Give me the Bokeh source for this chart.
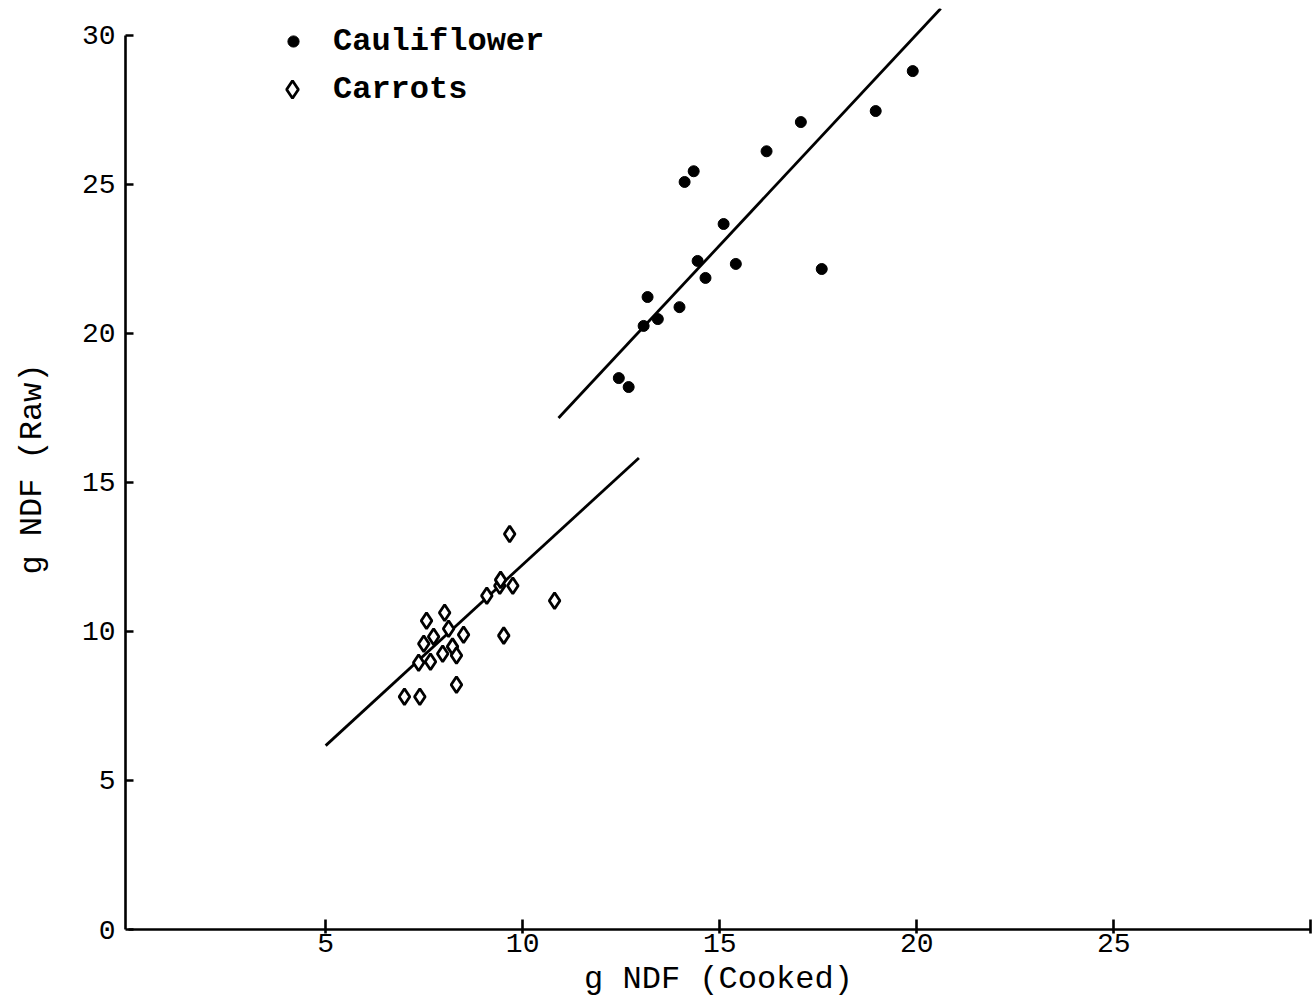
from bokeh.plotting import figure
from bokeh.models import Range1d, FixedTicker, Legend, LegendItem
from bokeh.embed import file_html
from bokeh.resources import INLINE

# ---- data ----
cauli_x = [12.44, 12.69, 13.07, 13.17, 13.43, 13.98, 14.11, 14.34, 14.44, 14.64,
           15.10, 15.41, 16.19, 17.06, 17.59, 18.96, 19.90]
cauli_y = [18.50, 18.20, 20.25, 21.22, 20.48, 20.88, 25.08, 25.44, 22.43, 21.86,
           23.67, 22.33, 26.11, 27.09, 22.16, 27.46, 28.80]

carrot_x = [7.00, 7.39, 7.36, 7.49, 7.56, 7.66, 7.74, 7.97, 8.02, 8.12, 8.22,
            8.32, 8.32, 8.50, 9.09, 9.42, 9.44, 9.52, 9.67, 9.75, 10.81]
carrot_y = [7.81, 7.81, 8.95, 9.59, 10.36, 8.98, 9.82, 9.25, 10.63, 10.09, 9.49,
            9.19, 8.21, 9.89, 11.20, 11.53, 11.73, 9.86, 13.27, 11.53, 11.03]

cauli_line_x = [10.91, 20.61]
cauli_line_y = [17.16, 30.90]
carrot_line_x = [5.00, 12.95]
carrot_line_y = [6.17, 15.82]

x_ticks = [5, 10, 15, 20, 25, 30]
y_ticks = [0, 5, 10, 15, 20, 25, 30]

x_title = "g NDF (Cooked)"
y_title = "g NDF (Raw)"

FONT = "Liberation Mono"

p = figure(width=1314, height=1000, output_backend="svg", toolbar_location=None,
           x_range=Range1d(-0.08, 30.02), y_range=Range1d(0, 30.9),
           min_border_left=125, min_border_right=3, min_border_top=8,
           min_border_bottom=70)
p.outline_line_color = None
p.grid.visible = False

# fitted lines
p.line(carrot_line_x, carrot_line_y, line_color="black", line_width=2.8)
p.line(cauli_line_x, cauli_line_y, line_color="black", line_width=2.8)

# points
r_c = p.scatter(cauli_x, cauli_y, marker="circle", size=11,
                fill_color="black", line_color="black")
r_k = p.scatter(carrot_x, carrot_y, marker="diamond", size=16,
                fill_color="white", line_color="black", line_width=2.8)

# axes
for ax in (p.xaxis[0], p.yaxis[0]):
    ax.bounds = (0, 30)
    ax.axis_line_width = 2.6
    ax.axis_line_color = "black"
    ax.major_tick_line_width = 2.6
    ax.major_tick_line_color = "black"
    ax.minor_tick_line_color = None
    ax.major_label_text_font = FONT
    ax.major_label_text_font_size = "28px"
    ax.major_label_text_color = "black"
    ax.axis_label_text_font = FONT
    ax.axis_label_text_font_size = "32px"
    ax.axis_label_text_font_style = "normal"
    ax.axis_label_text_color = "black"

p.xaxis.ticker = FixedTicker(ticks=x_ticks)
p.xaxis.major_label_overrides = {30: ""}
p.xaxis.major_tick_in = 10
p.xaxis.major_tick_out = 4
p.xaxis.major_label_standoff = 0
p.xaxis.axis_label = x_title
p.xaxis.axis_label_standoff = 6

p.yaxis.ticker = FixedTicker(ticks=y_ticks)
p.yaxis.major_tick_in = 8
p.yaxis.major_tick_out = 0
p.yaxis.major_label_standoff = 10
p.yaxis.axis_label = y_title
p.yaxis.axis_label_standoff = 28

# legends (two, so each glyph gets its own size)
common = dict(padding=0, margin=0, border_line_color=None, background_fill_alpha=0,
              label_text_font=FONT, label_text_font_style="bold",
              label_text_font_size="32px", label_text_color="black")
leg1 = Legend(items=[LegendItem(label="Cauliflower", renderers=[r_c])],
              location=(154, 868), glyph_width=28, glyph_height=40,
              label_height=40, label_standoff=26, **common)
leg2 = Legend(items=[LegendItem(label="Carrots", renderers=[r_k])],
              location=(145, 818), glyph_width=44, glyph_height=44,
              label_height=44, label_standoff=19, **common)
p.add_layout(leg1)
p.add_layout(leg2)

open("out.html", "w").write(file_html(p, INLINE))
